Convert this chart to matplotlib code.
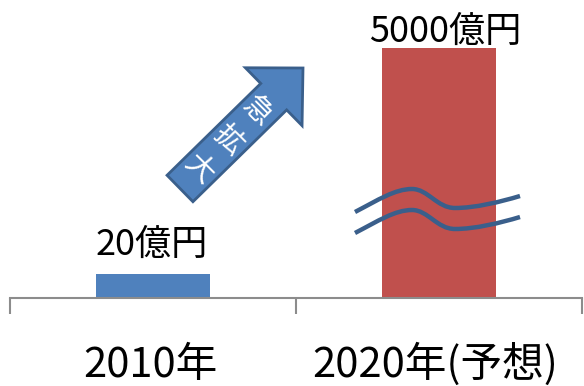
import matplotlib
matplotlib.use("Agg")
import matplotlib.pyplot as plt
from matplotlib.patches import FancyArrow, PathPatch
from matplotlib.path import Path

plt.rcParams['font.family'] = ['Noto Sans CJK JP', 'DejaVu Sans']

# data
categories = ["2010年", "2020年(予想)"]
value_labels = ["20億円", "5000億円"]
# 2020 bar is drawn on a broken axis, so its height is only a stand-in
bar_heights = [20, 210]
bar_colors = ["#4F81BD", "#C0504D"]
arrow_text = "急拡大"

fig = plt.figure(figsize=(5.84, 3.86), dpi=100)
W, H = 584, 386

ax = fig.add_axes([10 / W, (H - 298) / H, 572 / W, 298 / H])
ax.bar(range(len(categories)), bar_heights, width=0.4, color=bar_colors, zorder=2)
ax.set_xlim(-0.5, 1.5)
ax.set_ylim(0, 250)
for s in ["top", "left", "right"]:
    ax.spines[s].set_visible(False)
ax.spines["bottom"].set_color("#8C8C8C")
ax.spines["bottom"].set_linewidth(1.5)
ax.set_yticks([])
ax.set_xticks([-0.5, 0.5, 1.5])
ax.set_xticklabels([])
ax.tick_params(axis="x", direction="out", length=11.5, width=1.5, color="#8C8C8C")

# overlay in pixel coords for labels and decorations
ov = fig.add_axes([0, 0, 1, 1])
ov.set_xlim(0, W)
ov.set_ylim(H, 0)
ov.axis("off")

# category labels
for x, lab in zip([150, 435], categories):
    ov.text(x, 377, lab, ha="center", va="baseline", fontsize=30, color="black")

# value labels
for (x, y), lab in zip([(152, 255), (445, 42)], value_labels):
    ov.text(x, y, lab, ha="center", va="baseline", fontsize=26, color="black")

# arrow
arr = FancyArrow(180, 188.5, 123, -120.5, width=37, head_width=81, head_length=41,
                 length_includes_head=True, fc="#4F81BD", ec="#3A5F8B", lw=2, zorder=3)
ov.add_patch(arr)
for (x, y), ch in zip([(257, 111), (228, 140), (199, 169)], arrow_text):
    ov.text(x, y, ch, ha="center", va="center", rotation=-45, fontsize=21,
            color="white", zorder=4)

# break marks on the tall bar
for off in [0, 21]:
    verts = [(355, 212 + off),
             (378, 200 + off), (395, 189 + off), (412, 189 + off),
             (428, 189 + off), (437, 208 + off), (455, 208 + off),
             (475, 208 + off), (500, 202 + off), (520, 196 + off)]
    codes = [Path.MOVETO] + [Path.CURVE4] * 9
    ov.add_patch(PathPatch(Path(verts, codes), fill=False, ec="#3A5F8B", lw=3.2,
                           capstyle="butt", zorder=3))

fig.savefig("out.png", dpi=100)
